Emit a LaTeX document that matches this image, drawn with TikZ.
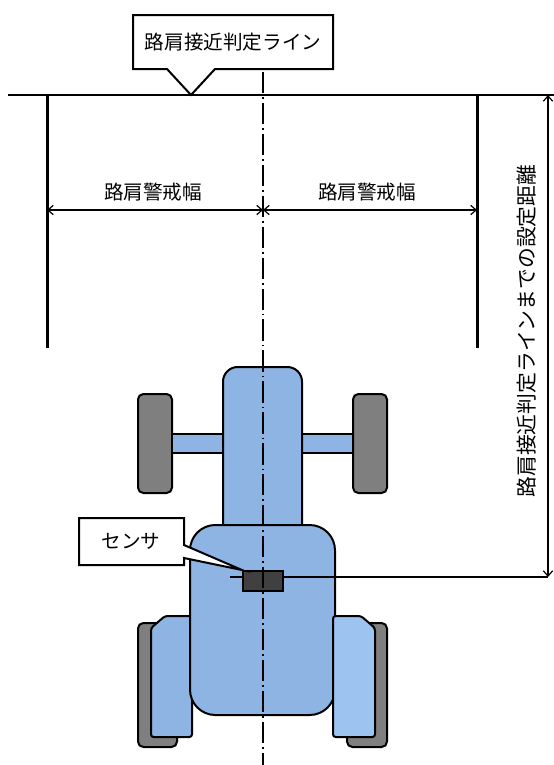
\documentclass[tikz,border=0pt]{standalone}
\usepackage{fontspec}
\setmainfont{Noto Sans CJK JP}
\usetikzlibrary{arrows.meta}

\definecolor{bodyblue}{HTML}{8EB4E3}
\definecolor{fenderblue}{HTML}{9DC3F0}
\definecolor{tyregray}{HTML}{7F7F7F}
\definecolor{sensorgray}{HTML}{404040}

\begin{document}
\begin{tikzpicture}[x=0.75pt, y=-0.75pt, line width=1.5pt,
    jtext/.style={font=\fontsize{14.7}{17}\selectfont, inner sep=0pt},
    part/.style={draw=black, line width=1.5pt, fill=bodyblue},
    tyre/.style={draw=black, line width=1.5pt, fill=tyregray, rounded corners=4pt},
    dim/.style={line width=0.9pt, {Straight Barb[length=4pt,width=7pt]}-{Straight Barb[length=4pt,width=7pt]}},
    centre/.style={line width=0.9pt, dash pattern=on 16pt off 3pt on 1.2pt off 3pt}]

    \useasboundingbox (0,0) rectangle (554,765);

    \def\cx{263}
    \coordinate (lineL) at (8,95);
    \coordinate (lineR) at (554,95);
    \coordinate (distTop) at (548,95);
    \coordinate (distEnd) at (548,577);
    \coordinate (sensorTail) at (230,577);

    % tractor, wheels first
    \draw[tyre] (138,394) rectangle (172,493);
    \draw[tyre] (353,394) rectangle (387,493);
    \draw[part] (172,434) rectangle (223,453);
    \draw[part] (302,434) rectangle (353,453);
    \draw[part, rounded corners=11pt] (223,367) rectangle (302,540);

    \draw[tyre] (138,623) rectangle (177,747);
    \draw[tyre] (347,623) rectangle (387,747);
    \draw[part, rounded corners=2pt] (151,628) -- (165,616) -- (192,616) -- (192,737) -- (151,737) -- cycle;
    \draw[part, rounded corners=19pt] (190,525) rectangle (335,715);
    \draw[part, fill=fenderblue, rounded corners=2pt] (333,616) -- (361,616) -- (375,628) -- (375,737) -- (333,737) -- cycle;

    \draw[line width=0.9pt] (sensorTail) -- (distEnd);
    \node[draw, fill=sensorgray, line width=1.5pt, minimum width=30pt, minimum height=15pt, inner sep=0pt] (sensor) at (263,581) {};

    % shoulder line and warning widths
    \draw (lineL) -- (lineR);
    \draw[line width=2.25pt] (47,95) -- (47,348);
    \draw[line width=2.25pt] (477,95) -- (477,348);
    \draw[centre] (\cx,72) -- (\cx,765);

    \draw[dim] (47,210) -- (\cx,210);
    \draw[dim] (\cx,210) -- (477,210);
    \node[jtext] (warnL) at (153,192) {路肩警戒幅};
    \node[jtext] (warnR) at (367,192) {路肩警戒幅};

    \draw[dim] (distTop) -- (distEnd);
    \node[jtext, font=\fontsize{15.6}{17}\selectfont, rotate=90] (distText) at (527,331) {路肩接近判定ラインまでの設定距離};

    % callouts
    \draw[fill=white] (133,15) -- (333,15) -- (333,69) -- (215,69) -- (191,95) -- (167,69) -- (133,69) -- cycle;
    \node[jtext] (lineText) at (233,42) {路肩接近判定ライン};

    \draw[fill=white] (79,518) -- (184,518) -- (184,545) -- (sensor.north west) -- (184,558) -- (184,565) -- (79,565) -- cycle;
    \node[jtext] (sensorText) at (131,541) {センサ};

\end{tikzpicture}
\end{document}
